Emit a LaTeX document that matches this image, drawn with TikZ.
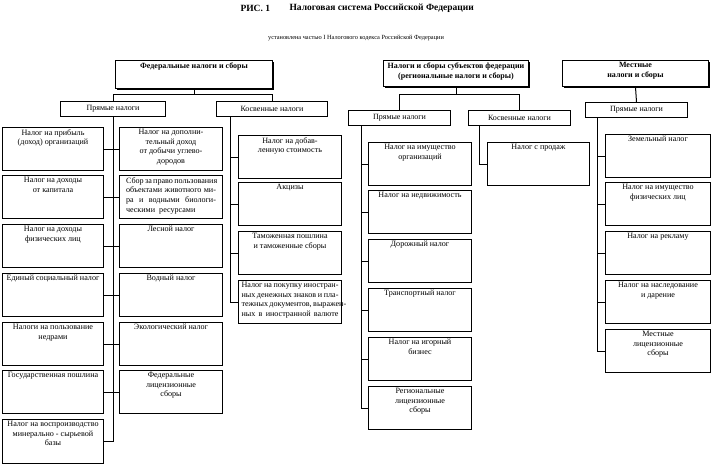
\documentclass[tikz,border=0pt]{standalone}
\usepackage{fontspec}
\setmainfont{Liberation Serif}
\usetikzlibrary{shadows}
\begin{document}
\begin{tikzpicture}[x=1pt,y=-1pt,
  box/.style={draw, line width=1pt, inner sep=0pt, anchor=north west, fill=white},
  cell/.style={box, minimum width=103pt, minimum height=43pt},
  sub/.style={box, minimum height=15pt, font=\fontsize{8}{9.6}\selectfont},
  head/.style={box, drop shadow={shadow xshift=1.3pt, shadow yshift=-1.3pt, fill=black, opacity=1}},
  lbl/.style={anchor=north, inner sep=2.2pt, align=center, font=\fontsize{8.1}{9.6}\selectfont},
  hlbl/.style={anchor=north, inner sep=2.5pt, align=center, font=\bfseries\fontsize{8}{9.6}\selectfont},
  conn/.style={line width=1pt}]
\useasboundingbox (0,0) rectangle (713,464);

% titles
\node[font=\bfseries\fontsize{9.5}{11}\selectfont, anchor=west] (t1) at (237,8) {РИС. 1};
\node[font=\bfseries\fontsize{9.5}{11}\selectfont, anchor=west] (t2) at (286,8) {Налоговая система Российской Федерации};
\node[font=\fontsize{6.3}{7}\selectfont] (t3) at (356,38) {установлена частью I Налогового кодекса Российской Федерации};

% headers
\node[head, minimum width=157pt, minimum height=28pt, label={[hlbl]north:Федеральные налоги и сборы}] (fed) at (115,60) {};
\node[head, minimum width=145pt, minimum height=26pt, label={[hlbl]north:{Налоги и сборы субъектов федерации\\(региональные налоги и сборы)}}] (reg) at (383,60) {};
\node[head, minimum width=146pt, minimum height=26pt, label={[hlbl]north:{Местные\\налоги и сборы}}] (loc) at (562,60) {};

% sub headers
\node[sub, minimum width=105pt] (fpd) at (60,101) {Прямые налоги};
\node[sub, minimum width=111pt] (fkd) at (216,101) {Косвенные налоги};
\node[sub, minimum width=102pt] (rpd) at (348,110) {Прямые налоги};
\node[sub, minimum width=102pt] (rkd) at (468,110) {Косвенные налоги};
\node[sub, minimum width=102pt] (lpd) at (585,102) {Прямые налоги};

% header connectors
\coordinate (fbar) at (0,94);
\coordinate (rbar) at (0,94);
\draw[conn] (fed.south) -- (fed.south |- fbar);
\draw[conn] (fpd.north) -- (fpd.north |- fbar) -- (fkd.north |- fbar) -- (fkd.north);
\draw[conn] (reg.south) -- (reg.south |- rbar);
\draw[conn] (rpd.north) -- (rpd.north |- rbar) -- (rkd.north |- rbar) -- (rkd.north);
\draw[conn] (loc.south) -- (lpd.north);

% federal direct, left column
\node[cell, minimum width=101pt, label={[lbl]north:{Налог на прибыль\\(доход) организаций}}] (fl1) at (2,127) {};
\node[cell, minimum width=101pt, label={[lbl]north:{Налог на доходы\\от капитала}}] (fl2) at (2,175) {};
\node[cell, minimum width=101pt, label={[lbl]north:{Налог на доходы\\физических лиц}}] (fl3) at (2,224) {};
\node[cell, minimum width=101pt, label={[lbl]north:{Единый социальный налог}}] (fl4) at (2,273) {};
\node[cell, minimum width=101pt, label={[lbl]north:{Налоги на пользование\\недрами}}] (fl5) at (2,322) {};
\node[cell, minimum width=101pt, label={[lbl]north:{Государственная пошлина}}] (fl6) at (2,370) {};
\node[cell, minimum width=101pt, minimum height=44pt, label={[lbl]north:{Налог на воспроизводство\\минерально - сырьевой\\базы}}] (fl7) at (2,419) {};

% federal direct, right column
\node[cell, label={[lbl]north:{Налог на дополни-\\тельный доход\\от добычи углево-\\дородов}}] (fr1) at (119,127) {};
\node[cell, label={[lbl]north:{\makebox[90pt][s]{Сбор за право пользования}\\\makebox[90pt][s]{объектами животного ми-}\\\makebox[90pt][s]{ра и водными биологи-}\\\makebox[90pt][l]{ческими\ \ ресурсами}}}] (fr2) at (119,175) {};
\node[cell, label={[lbl]north:{Лесной налог}}] (fr3) at (119,224) {};
\node[cell, label={[lbl]north:{Водный налог}}] (fr4) at (119,273) {};
\node[cell, label={[lbl]north:{Экологический налог}}] (fr5) at (119,322) {};
\node[cell, label={[lbl]north:{Федеральные\\лицензионные\\сборы}}] (fr6) at (119,370) {};

\foreach \i in {1,...,7} \draw[conn] (fpd.south) |- (fl\i.east);
\foreach \i in {1,...,6} \draw[conn] (fpd.south) |- (fr\i.west);

% federal indirect
\node[cell, label={[lbl]north:{Налог на добав-\\ленную стоимость}}] (fk1) at (238,135) {};
\node[cell, label={[lbl]north:{Акцизы}}] (fk2) at (238,182) {};
\node[cell, label={[lbl]north:{Таможенная пошлина\\и таможенные сборы}}] (fk3) at (238,231) {};
\node[cell, label={[lbl]north:{\makebox[97pt][s]{Налог на покупку иностран-}\\\makebox[97pt][s]{ных денежных знаков и пла-}\\\makebox[97pt][s]{тежных документов, выражен-}\\\makebox[97pt][s]{ных в иностранной валюте}}}] (fk4) at (238,280) {};
\coordinate (fkt) at ([xshift=14pt]fkd.south west);
\foreach \i in {1,...,4} \draw[conn] (fkt) |- (fk\i.west);

% regional direct
\node[cell, label={[lbl]north:{Налог на имущество\\организаций}}] (rp1) at (368,142) {};
\node[cell, label={[lbl]north:{Налог на недвижимость}}] (rp2) at (368,190) {};
\node[cell, label={[lbl]north:{Дорожный налог}}] (rp3) at (368,239) {};
\node[cell, label={[lbl]north:{Транспортный налог}}] (rp4) at (368,288) {};
\node[cell, label={[lbl]north:{Налог на игорный\\бизнес}}] (rp5) at (368,337) {};
\node[cell, label={[lbl]north:{Региональные\\лицензионные\\сборы}}] (rp6) at (368,386) {};
\coordinate (rpt) at ([xshift=13pt]rpd.south west);
\foreach \i in {1,...,6} \draw[conn] (rpt) |- (rp\i.west);

% regional indirect
\node[cell, minimum width=102pt, label={[lbl]north:{Налог с продаж}}] (rk1) at (487,142) {};
\coordinate (rkt) at ([xshift=11pt]rkd.south west);
\draw[conn] (rkt) |- (rk1.west);

% local direct
\node[cell, minimum width=105pt, label={[lbl]north:{Земельный налог}}] (lp1) at (605,134) {};
\node[cell, minimum width=105pt, label={[lbl]north:{Налог на имущество\\физических лиц}}] (lp2) at (605,182) {};
\node[cell, minimum width=105pt, label={[lbl]north:{Налог на рекламу}}] (lp3) at (605,231) {};
\node[cell, minimum width=105pt, label={[lbl]north:{Налог на наследование\\и дарение}}] (lp4) at (605,280) {};
\node[cell, minimum width=105pt, label={[lbl]north:{Местные\\лицензионные\\сборы}}] (lp5) at (605,329) {};
\coordinate (lpt) at ([xshift=12pt]lpd.south west);
\foreach \i in {1,...,5} \draw[conn] (lpt) |- (lp\i.west);
\end{tikzpicture}
\end{document}
